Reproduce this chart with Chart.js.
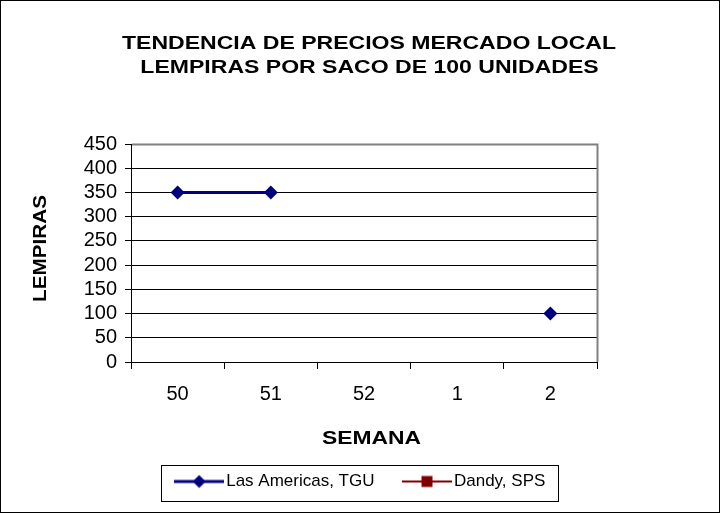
<!DOCTYPE html>
<html><head><meta charset="utf-8">
<script src="https://cdn.jsdelivr.net/npm/chart.js@4/dist/chart.umd.min.js"></script>
<style>html,body{margin:0;padding:0;background:#fff}#wrap{width:720px;height:513px}</style>
</head><body><div id="wrap"><canvas id="c" width="720" height="513"></canvas></div>
<script>
const semanas = ['50', '51', '52', '1', '2'];
const lasAmericas = [350, 350, null, null, 100];
const dandy = [null, null, null, null, null];
const seriesNames = ['Las Americas, TGU', 'Dandy, SPS'];
const seriesColors = ['#000080', '#800000'];
const titleLines = ['TENDENCIA DE PRECIOS MERCADO LOCAL', 'LEMPIRAS POR SACO DE 100 UNIDADES'];
const yTitle = 'LEMPIRAS';
const xTitle = 'SEMANA';
const yMin = 0, yMax = 450, yStep = 50;

const FONT = '"Liberation Sans", Arial, sans-serif';

function makeSample(color, lw, marker) {
  const cv = document.createElement('canvas');
  cv.width = 50; cv.height = 16;
  const c = cv.getContext('2d');
  c.strokeStyle = color; c.lineWidth = lw;
  c.beginPath(); c.moveTo(0, 8); c.lineTo(50, 8); c.stroke();
  c.fillStyle = color;
  c.beginPath();
  if (marker === 'diamond') {
    c.moveTo(25, 1.5); c.lineTo(31.5, 8); c.lineTo(25, 14.5); c.lineTo(18.5, 8); c.closePath();
  } else {
    c.rect(19.5, 2.5, 11, 11);
  }
  c.fill();
  return cv;
}
const samples = [makeSample(seriesColors[0], 3, 'diamond'), makeSample(seriesColors[1], 2, 'square')];

function stretchedText(ctx, text, x, y, sx, rot) {
  ctx.save();
  ctx.translate(x, y);
  if (rot) ctx.rotate(rot);
  ctx.scale(sx, 1);
  ctx.textAlign = 'center';
  ctx.textBaseline = 'alphabetic';
  ctx.fillText(text, 0, 0);
  ctx.restore();
}

const decor = {
  id: 'decor',
  beforeDraw(chart) {
    const ctx = chart.ctx;
    ctx.save(); ctx.fillStyle = '#fff'; ctx.fillRect(0, 0, chart.width, chart.height); ctx.restore();
  },
  afterDraw(chart) {
    const ctx = chart.ctx, a = chart.chartArea;
    ctx.save();
    ctx.strokeStyle = '#808080'; ctx.lineWidth = 2;
    ctx.beginPath();
    ctx.moveTo(a.left + 1, a.top + 0.5); ctx.lineTo(a.right + 0.5, a.top + 0.5); ctx.lineTo(a.right + 0.5, a.bottom);
    ctx.stroke();
    ctx.fillStyle = '#000';
    ctx.font = 'bold 18px ' + FONT;
    stretchedText(ctx, titleLines[0], 369, 49.3, 1.28);
    stretchedText(ctx, titleLines[1], 369.5, 73.3, 1.28);
    stretchedText(ctx, xTitle, 371.5, 444, 1.27);
    stretchedText(ctx, yTitle, 46, 248.5, 1.15, -Math.PI / 2);
    // legend frame
    const hb = chart.legend.legendHitBoxes;
    if (hb && hb.length) {
      const l = hb[0].left - 19.5;
      const r = hb[hb.length - 1].left + hb[hb.length - 1].width + 13;
      const t = hb[0].top - 8.5;
      const b = hb[0].top + 27;
      ctx.strokeStyle = '#000'; ctx.lineWidth = 1;
      ctx.strokeRect(Math.round(l) + 0.5, Math.round(t) + 0.5, Math.round(r - l), Math.round(b - t));
    }
    ctx.strokeStyle = '#000'; ctx.lineWidth = 1;
    ctx.strokeRect(0.5, 0.5, chart.width - 1, chart.height - 1);
    ctx.restore();
  }
};

new Chart(document.getElementById('c'), {
  type: 'line',
  data: {
    labels: semanas,
    datasets: [
      { label: seriesNames[0], data: lasAmericas, borderColor: seriesColors[0], backgroundColor: seriesColors[0],
        borderWidth: 3, pointStyle: 'rectRot', pointRadius: 7, pointHoverRadius: 7, pointBorderWidth: 0, spanGaps: false, tension: 0 },
      { label: seriesNames[1], data: dandy, borderColor: seriesColors[1], backgroundColor: seriesColors[1],
        borderWidth: 2, pointStyle: 'rect', pointRadius: 8, pointHoverRadius: 8, pointBorderWidth: 0, spanGaps: false, tension: 0 }
    ]
  },
  options: {
    responsive: false,
    devicePixelRatio: 1,
    animation: false,
    layout: { padding: { top: 144, left: 6, right: 0, bottom: 13 } },
    plugins: {
      title: { display: false },
      tooltip: { enabled: false },
      legend: {
        display: true,
        position: 'bottom',
        labels: {
          usePointStyle: true,
          pointStyleWidth: 37,
          boxHeight: 12,
          padding: 34,
          color: '#000',
          font: { family: FONT, size: 17 },
          generateLabels(chart) {
            const items = Chart.defaults.plugins.legend.labels.generateLabels(chart);
            items.forEach((it, i) => { it.pointStyle = samples[i]; });
            return items;
          }
        }
      }
    },
    scales: {
      x: {
        type: 'category',
        offset: true,
        afterFit(s) { s.height = 77; },
        grid: { display: true, offset: true, drawOnChartArea: false, drawTicks: true, tickLength: 7, color: '#000', lineWidth: 1 },
        border: { display: true, color: '#000', width: 1 },
        ticks: { color: '#000', padding: 13, font: { family: FONT, size: 20 }, maxRotation: 0, autoSkip: false },
        title: { display: false }
      },
      y: {
        min: yMin, max: yMax,
        afterFit(s) { s.width = 125; },
        grid: { color: '#000', lineWidth: 1, tickLength: 6, drawTicks: true },
        border: { display: true, color: '#000', width: 1 },
        ticks: { stepSize: yStep, autoSkip: false, color: '#000', padding: 8, font: { family: FONT, size: 20 } },
        title: { display: false }
      },
      yR: {
        position: 'right',
        display: true,
        afterFit(s) { s.width = 123; },
        grid: { display: false, drawTicks: false },
        border: { display: false },
        ticks: { display: false }
      }
    }
  },
  plugins: [decor]
});
</script>
</body></html>
